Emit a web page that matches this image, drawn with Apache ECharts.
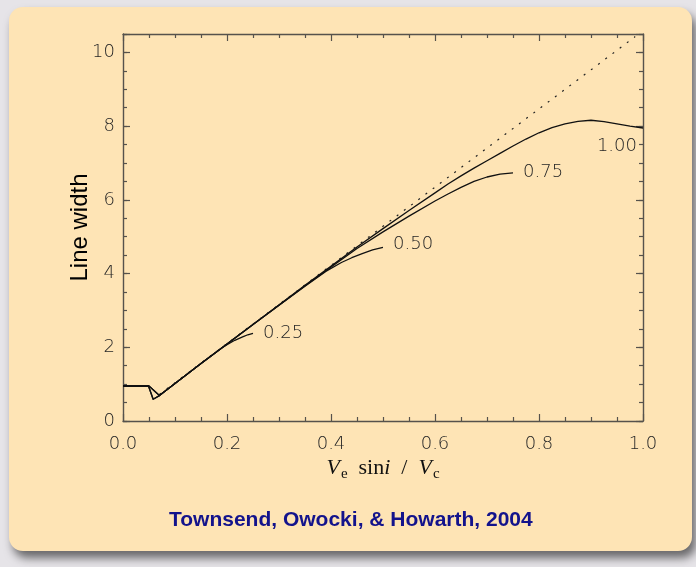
<!DOCTYPE html>
<html>
<head>
<meta charset="utf-8">
<script src="https://cdn.jsdelivr.net/npm/echarts@6/dist/echarts.min.js"></script>
<style>
  html, body { margin: 0; padding: 0; background: #e6e4e8; }
  #chart { width: 696px; height: 567px; }
</style>
</head>
<body>
<div id="chart"></div>
<script>
// line width vs V_e sin i / V_c, one curve per inclination label
const curve025 = [[0, 0.95], [0.049, 0.95], [0.058, 0.59], [0.07, 0.69], [0.15, 1.56], [0.19, 1.98], [0.2, 2.07], [0.215, 2.19], [0.23, 2.28], [0.24, 2.34], [0.25, 2.38]];
const curve050 = [[0, 0.95], [0.05, 0.95], [0.07, 0.69], [0.15, 1.56], [0.25, 2.62], [0.35, 3.66], [0.39, 4.06], [0.42, 4.3], [0.44, 4.43], [0.46, 4.54], [0.48, 4.64], [0.5, 4.71]];
const curve075 = [[0, 0.95], [0.049, 0.95], [0.058, 0.59], [0.07, 0.69], [0.15, 1.56], [0.25, 2.62], [0.35, 3.67], [0.45, 4.68], [0.5, 5.13], [0.55, 5.56], [0.6, 5.97], [0.625, 6.16], [0.65, 6.34], [0.675, 6.5], [0.7, 6.62], [0.725, 6.7], [0.75, 6.73]];
const curve100 = [[0, 0.95], [0.05, 0.95], [0.07, 0.69], [0.15, 1.56], [0.25, 2.62], [0.35, 3.68], [0.45, 4.72], [0.5, 5.22], [0.55, 5.71], [0.6, 6.19], [0.625, 6.43], [0.65, 6.65], [0.675, 6.86], [0.7, 7.06], [0.725, 7.26], [0.75, 7.46], [0.775, 7.65], [0.8, 7.82], [0.825, 7.96], [0.85, 8.06], [0.875, 8.13], [0.9, 8.16], [0.925, 8.12], [0.95, 8.06], [0.975, 8.0], [1.0, 7.95]];
const asymptote = [[0.07, 0.72], [0.985, 10.43]];
const curveLabels = ["0.25", "0.50", "0.75", "1.00"];
const xTickLabels = ["0.0", "0.2", "0.4", "0.6", "0.8", "1.0"];
const yTickLabels = ["0", "2", "4", "6", "8", "10"];

const AXIS = "#56524c";
const TXT = "#262626";
const tickFont = { fontFamily: "DejaVu Sans", fontWeight: 200, fontSize: 18, color: TXT };

const chart = echarts.init(document.getElementById("chart"), null, { renderer: "canvas" });

function sideX(pos, show) {
  return {
    type: "value", position: pos, min: 0, max: 1, interval: 0.2,
    axisLine: { onZero: false, lineStyle: { color: AXIS, width: 1.4 } },
    axisTick: { inside: true, length: 7, lineStyle: { color: AXIS, width: 1.2 } },
    minorTick: { show: true, splitNumber: 4, length: 4, lineStyle: { color: AXIS, width: 1.2 } },
    splitLine: { show: false },
    axisLabel: show ? { ...tickFont, margin: 14, formatter: (v) => xTickLabels[Math.round(v / 0.2)] ?? "" } : { show: false },
  };
}

function sideY(pos, step, len, show) {
  return {
    type: "value", position: pos, min: 0, max: 10.5, interval: step,
    axisLine: { onZero: false, show: step === 0.5, lineStyle: { color: AXIS, width: 1.4 } },
    axisTick: { inside: true, length: len, lineStyle: { color: AXIS, width: 1.2 } },
    splitLine: { show: false },
    axisLabel: show ? {
      ...tickFont, margin: 8,
      formatter: (v) => (Math.abs(v / 2 - Math.round(v / 2)) < 1e-6 ? yTickLabels[Math.round(v / 2)] ?? "" : ""),
    } : { show: false },
  };
}

const xAxes = [sideX("bottom", true), sideX("top", false)];
xAxes[0].name = "{v|V}{s|e}{t|  sin}{v|i}{t|  /  }{v|V}{s|c}";
xAxes[0].nameLocation = "middle";
xAxes[0].nameGap = 34;
xAxes[0].nameMoveOverlap = false;
xAxes[0].nameTextStyle = {
  color: "#111",
  rich: {
    v: { fontFamily: "Liberation Serif", fontStyle: "italic", fontSize: 22, color: "#111" },
    t: { fontFamily: "Liberation Serif", fontSize: 22, color: "#111" },
    s: { fontFamily: "Liberation Serif", fontSize: 15, color: "#111", padding: [12, 0, 0, 1] },
  },
};

const yAxes = [sideY("left", 0.5, 4, true), sideY("left", 2, 7, false), sideY("right", 0.5, 4, false), sideY("right", 2, 7, false)];
yAxes[0].name = "Line width";
yAxes[0].nameLocation = "middle";
yAxes[0].nameGap = 31;
yAxes[0].nameMoveOverlap = false;
yAxes[0].nameTextStyle = { fontFamily: "Liberation Sans", fontSize: 24, color: "#000" };

function curve(data, label, endOpts) {
  return {
    type: "line", data, xAxisIndex: 0, yAxisIndex: 0,
    showSymbol: false, symbol: "none",
    lineStyle: { color: "#111", width: 1.3, join: "round" },
    endLabel: { show: true, formatter: label, ...tickFont, ...endOpts },
  };
}

chart.setOption({
  animation: false,
  backgroundColor: "#e6e4e8",
  grid: { left: 123, right: 53, top: 34, bottom: 146 },
  graphic: [
    {
      type: "rect", z: -10, silent: true,
      shape: { x: 9, y: 7, width: 683, height: 544, r: 14 },
      style: { fill: "#fee4b5", shadowBlur: 10, shadowOffsetY: 7, shadowOffsetX: 4, shadowColor: "rgba(0,0,0,0.55)" },
    },
    {
      type: "text", left: 169, top: 510, silent: true,
      style: { text: "Townsend, Owocki, & Howarth, 2004", font: "bold 21px 'Liberation Sans'", fill: "#13138c" },
    },
  ],
  xAxis: xAxes,
  yAxis: yAxes,
  series: [
    {
      type: "line", data: asymptote, showSymbol: false, symbol: "none",
      lineStyle: { color: "#222", width: 1.2, type: [2, 7] },
    },
    curve(curve025, curveLabels[0], { distance: 10 }),
    curve(curve050, curveLabels[1], { distance: 10, offset: [0, -3] }),
    curve(curve075, curveLabels[2], { distance: 10, offset: [0, -1] }),
    curve(curve100, curveLabels[3], { distance: 0, align: "right", offset: [-6, 18] }),
  ],
});
</script>
</body>
</html>
